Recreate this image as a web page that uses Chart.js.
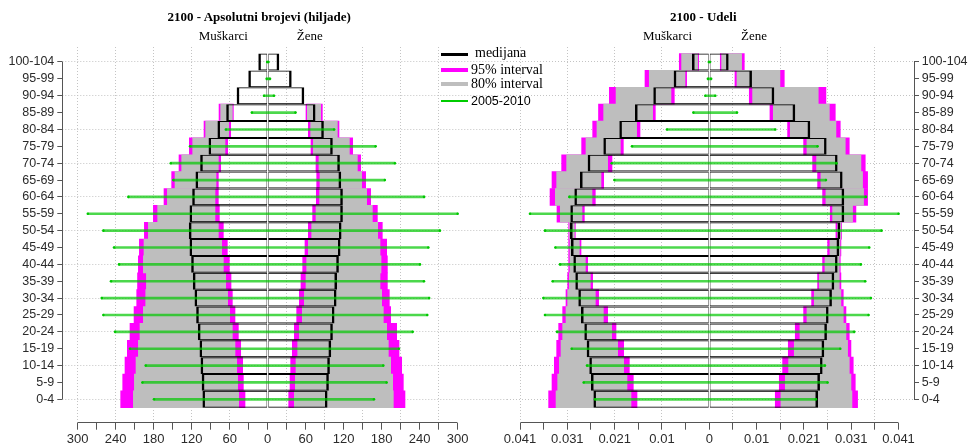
<!DOCTYPE html>
<html lang="sr">
<head>
<meta charset="utf-8">
<title>2100 - Piramide stanovništva</title>
<script src="https://cdn.jsdelivr.net/npm/chart.js@4.4.1/dist/chart.umd.min.js"></script>
<style>
  html, body { margin: 0; padding: 0; background: #fff; }
  #page { position: relative; width: 971px; height: 446px; overflow: hidden; background: #fff; }
  canvas { position: absolute; top: 0; }
  .t { position: absolute; white-space: nowrap; color: #000; }
  .serif { font-family: "Liberation Serif", "Times New Roman", serif; }
  .sans { font-family: "Liberation Sans", Arial, sans-serif; }
  .ctr { transform: translateX(-50%); }
  .title { font-size: 13px; line-height: 15px; font-weight: bold; }
  .sub { font-size: 13px; line-height: 15px; }
  .lg { font-size: 14px; line-height: 16px; }
  .sw { position: absolute; left: 441px; width: 27px; }
</style>
</head>
<body>
<div id="page">
  <canvas id="cAbs" width="507" height="446" style="left:0"></canvas>
  <canvas id="cShare" width="481" height="446" style="left:490px"></canvas>

  <div class="t serif title ctr" style="left:259.2px;top:8.9px">2100 - Apsolutni brojevi (hiljade)</div>
  <div class="t serif sub ctr" style="left:223.3px;top:27.6px">Muškarci</div>
  <div class="t serif sub ctr" style="left:309.7px;top:27.6px">Žene</div>

  <div class="t serif title ctr" style="left:703.3px;top:8.9px">2100 - Udeli</div>
  <div class="t serif sub ctr" style="left:667.5px;top:27.6px">Muškarci</div>
  <div class="t serif sub ctr" style="left:754px;top:27.6px">Žene</div>

  <div class="sw" style="top:52.5px;height:3px;background:#000"></div>
  <div class="sw" style="top:68px;height:4px;background:#ff00ff"></div>
  <div class="sw" style="top:81.5px;height:4px;background:#bebebe"></div>
  <div class="sw" style="top:99.8px;height:2.5px;background:#00cc00"></div>
  <div class="t serif lg" style="left:475px;top:44.8px">medijana</div>
  <div class="t serif lg" style="left:471px;top:62.3px">95% interval</div>
  <div class="t serif lg" style="left:471px;top:75.6px">80% interval</div>
  <div class="t sans" style="left:471px;top:94.4px;font-size:12.5px;line-height:14px">2005-2010</div>
</div>

<script>
// Age groups, bottom (0-4) to top (100-104)
const ages = ['0-4', '5-9', '10-14', '15-19', '20-24', '25-29', '30-34', '35-39', '40-44', '45-49',
  '50-54', '55-59', '60-64', '65-69', '70-74', '75-79', '80-84', '85-89', '90-94', '95-99', '100-104'];

// ---- 2100, absolute numbers (thousands) ----
const absMaleMedian   = [103, 104.2, 106, 107.6, 110.3, 112.9, 115.5, 118.2, 120.8, 123.4, 124.5, 123.4, 119.2, 114, 106.6, 93.4, 79.3, 65.5, 49, 30.6, 14.8];
const absFemaleMedian = [94.5, 96.6, 98.2, 100.3, 102.9, 105.5, 108.7, 109.5, 112.4, 115, 116.6, 118.7, 118.7, 116.1, 114, 102.8, 88.7, 75.5, 57.8, 37.9, 18.3];

const absMaleLo95 = [35.8, 38.4, 39.5, 42.6, 46.3, 51.6, 55.8, 57.9, 60.5, 63.7, 70, 76.3, 77.9, 77.9, 74.2, 63.2, 58.4, 54.2, null, null, null];
const absMaleLo80 = [45.8, 47.4, 48.9, 51.6, 55.8, 60, 63.2, 66.3, 70, 72.6, 77.9, 83.2, 83.2, 81.6, 77.9, 67.4, 61.6, 55.8, null, null, null];
const absMaleHi80 = [212.1, 210.5, 207.9, 204.2, 201.6, 196.3, 192.6, 191.5, 196.3, 195.3, 188.4, 173.7, 158.4, 146.3, 135.8, 118.4, 97.9, 74.2, null, null, null];
const absMaleHi95 = [232.1, 228.9, 225.3, 221.6, 217.4, 211, 206.8, 205.5, 204.2, 202.6, 194.7, 180.5, 163.7, 151.6, 140, 123.7, 100.5, 76.8, null, null, null];

const absFemaleLo95 = [33.2, 35.3, 36.3, 38.9, 42.1, 45.8, 50, 52.6, 55.3, 58.9, 64.2, 71, 76.8, 77.4, 76.3, 68.4, 64.2, 60.5, null, null, null];
const absFemaleLo80 = [42.1, 43.7, 44.7, 47.4, 50, 54.7, 57.9, 60.5, 61.6, 64.2, 69.5, 76.3, 82, 82.6, 81, 72.1, 67.9, 62.6, null, null, null];
const absFemaleHi80 = [198.4, 197.4, 194.2, 190.5, 187.9, 182.6, 180, 177.4, 179, 177.4, 173.7, 165.3, 156.3, 148.4, 141.6, 129, 110, 83.7, null, null, null];
const absFemaleHi95 = [216.8, 214.2, 211.6, 207.4, 203.7, 194.2, 192.1, 189, 189, 187.9, 181, 173.2, 162.6, 154.7, 146.8, 134.2, 112.6, 86.3, null, null, null];

const absMale2005   = [179.5, 197.9, 192.6, 217.4, 241, 259.5, 262, 247.4, 234.7, 242.6, 259.5, 284, 220, 149, 153, 122.6, 66, 25, 5.8, 1.6, 0.8];
const absFemale2005 = [167.9, 187.9, 182.6, 207.4, 229, 252, 255, 246.8, 240.5, 253.7, 272, 300, 247, 185, 201, 170.5, 105, 44, 10, 3.7, 1.2];

const absTicks = [-300, -270, -240, -210, -180, -150, -120, -90, -60, -30, 0, 30, 60, 90, 120, 150, 180, 210, 240, 270, 300];
const absTickLabels = ['300', '', '240', '', '180', '', '120', '', '60', '', '0', '', '60', '', '120', '', '180', '', '240', '', '300'];
const absGridX = [-300, -240, -180, -120, -60, 30, 90, 150, 210, 270];

// ---- 2100, shares ----
const shareMaleMedian   = [0.0251, 0.02563, 0.02599, 0.02656, 0.02707, 0.02779, 0.02837, 0.02902, 0.02945, 0.02996, 0.03017, 0.0301, 0.02923, 0.02801, 0.02635, 0.02295, 0.01949, 0.0161, 0.01213, 0.00772, 0.00375];
const shareFemaleMedian = [0.02355, 0.02397, 0.02454, 0.0249, 0.02548, 0.02584, 0.02656, 0.02707, 0.02779, 0.02815, 0.02837, 0.02923, 0.02923, 0.02887, 0.02779, 0.02541, 0.02187, 0.01862, 0.01408, 0.00924, 0.00419];

const shareMaleLo95 = [0.01566, 0.01646, 0.01732, 0.01855, 0.02021, 0.02202, 0.02397, 0.02527, 0.02635, 0.02779, 0.02902, 0.02707, 0.02469, 0.02288, 0.02108, 0.01862, 0.01501, 0.01169, 0.00758, 0.00491, 0.00231];
const shareMaleLo80 = [0.01696, 0.01783, 0.01855, 0.01985, 0.02115, 0.02295, 0.02469, 0.02577, 0.02685, 0.02815, 0.02923, 0.02757, 0.02541, 0.02346, 0.02202, 0.01927, 0.01574, 0.01227, 0.0083, 0.00527, 0.00253];
const shareMaleHi80 = [0.0332, 0.03284, 0.03248, 0.03212, 0.03176, 0.03104, 0.03068, 0.03032, 0.03017, 0.03017, 0.03025, 0.03227, 0.03335, 0.03306, 0.0309, 0.02671, 0.02433, 0.02288, 0.0202, 0.013, 0.006];
const shareMaleHi95 = [0.0348, 0.03407, 0.03357, 0.03306, 0.03263, 0.03176, 0.03104, 0.03068, 0.03046, 0.03046, 0.03046, 0.03299, 0.0345, 0.03407, 0.03198, 0.02765, 0.02526, 0.024, 0.02165, 0.01393, 0.0065];

const shareFemaleLo95 = [0.01429, 0.01516, 0.01588, 0.01711, 0.01862, 0.02043, 0.02216, 0.02346, 0.02454, 0.02563, 0.02743, 0.0262, 0.02454, 0.02346, 0.02238, 0.02043, 0.01696, 0.01314, 0.00866, 0.00556, 0.00238];
const shareFemaleLo80 = [0.01552, 0.01646, 0.01718, 0.01841, 0.01963, 0.02115, 0.02274, 0.02382, 0.02505, 0.02613, 0.02779, 0.02671, 0.02526, 0.02418, 0.02324, 0.02115, 0.01754, 0.01386, 0.00938, 0.006, 0.00267];
const shareFemaleHi80 = [0.0309, 0.03068, 0.03032, 0.02996, 0.0296, 0.02902, 0.02851, 0.02815, 0.02815, 0.0283, 0.02851, 0.03104, 0.03342, 0.0332, 0.03284, 0.02945, 0.02743, 0.026, 0.0236, 0.0153, 0.007];
const shareFemaleHi95 = [0.03212, 0.03162, 0.03118, 0.03068, 0.03032, 0.0296, 0.02902, 0.02851, 0.02837, 0.02851, 0.02866, 0.03176, 0.03429, 0.03429, 0.03378, 0.03032, 0.02837, 0.02729, 0.02526, 0.01624, 0.00758];

const shareMale2005   = [0.02476, 0.02721, 0.02649, 0.02981, 0.03299, 0.03559, 0.03595, 0.03393, 0.03234, 0.03335, 0.03559, 0.03884, 0.03032, 0.02057, 0.02115, 0.01675, 0.00917, 0.00346, 0.00087, 0.0003, 0.0001];
const shareFemale2005 = [0.0231, 0.02563, 0.02505, 0.02837, 0.0314, 0.0345, 0.03501, 0.03378, 0.03284, 0.03465, 0.03732, 0.041, 0.03393, 0.02527, 0.02757, 0.02346, 0.01429, 0.006, 0.0013, 0.0004, 0.00015];

const shareTicks = [-0.041, -0.035875, -0.03075, -0.025625, -0.0205, -0.015375, -0.01025, -0.005125, 0,
  0.005125, 0.01025, 0.015375, 0.0205, 0.025625, 0.03075, 0.035875, 0.041];
const shareTickLabels = ['0.041', '', '0.031', '', '0.021', '', '0.01', '', '0', '', '0.01', '', '0.021', '', '0.031', '', '0.041'];
const shareGridX = [-0.041, -0.03075, -0.0205, -0.01025, 0.005125, 0.015375, 0.025625, 0.035875];

// Horizontal reference lines every second age group (0-4, 10-14, ...)
const gridRows = ages.map((_a, i) => i).filter(i => i % 2 === 0);

// ---- styling ----
const MAGENTA = '#ff00ff';
const GRAY = '#bebebe';
const GREEN = 'rgba(0, 200, 0, 0.7)';
const GREEN_DOT = '#00c800';
const GRID = '#c4c4c4';
const AXIS = '#555555';
const TEXT = '#2b2b2b';
const NONE = 'rgba(0,0,0,0)';
const SANS = '"Liberation Sans", Arial, sans-serif';

// Men are plotted on the negative side, women on the positive side.
function spans(lo, hi, side) {
  const out = [];
  lo.forEach((v, i) => {
    if (v == null || hi[i] == null) return;
    out.push(side < 0 ? { y: i, x: [-hi[i], -v] } : { y: i, x: [v, hi[i]] });
  });
  return out;
}
function medianBars(vals, side) {
  return vals.map((v, i) => ({ y: i, x: side < 0 ? [-v, 0] : [0, v] }));
}
function observedBars(m, f) {
  return m.map((v, i) => ({ y: i, x: [-v, f[i]] }));
}

const crisp = v => Math.round(v - 0.5) + 0.5;

// Dotted reference grid under the bars
const dottedGrid = {
  id: 'dottedGrid',
  beforeDatasetsDraw(chart, _args, opts) {
    const { ctx, chartArea: a, scales: { x, y } } = chart;
    ctx.save();
    ctx.strokeStyle = GRID;
    ctx.lineWidth = 1;
    ctx.setLineDash([1, 2]);
    ctx.beginPath();
    opts.xs.forEach(v => {
      const px = crisp(x.getPixelForValue(v));
      ctx.moveTo(px, a.top);
      ctx.lineTo(px, a.bottom);
    });
    opts.rows.forEach(r => {
      const py = crisp(y.getPixelForValue(r));
      ctx.moveTo(a.left, py);
      ctx.lineTo(a.right, py);
    });
    ctx.stroke();
    ctx.restore();
  }
};

// Axis lines that run only between the outermost ticks
const axisLines = {
  id: 'axisLines',
  afterDraw(chart, _args, opts) {
    const { ctx, chartArea, scales: { x, y } } = chart;
    ctx.save();
    ctx.strokeStyle = AXIS;
    ctx.lineWidth = 1;
    ctx.setLineDash([]);
    ctx.beginPath();
    const yb = crisp(chartArea.bottom);
    ctx.moveTo(crisp(x.getPixelForValue(opts.xFrom)), yb);
    ctx.lineTo(crisp(x.getPixelForValue(opts.xTo)), yb);
    ctx.stroke();
    const xa = crisp(opts.side === 'right' ? chartArea.right : chartArea.left);
    ctx.beginPath();
    ctx.moveTo(xa, crisp(y.getPixelForValue(0)));
    ctx.lineTo(xa, crisp(y.getPixelForValue(ages.length - 1)));
    ctx.stroke();
    ctx.restore();
  }
};

// Small end markers on the 2005-2010 reference lines
const observedEnds = {
  id: 'observedEnds',
  afterDatasetsDraw(chart) {
    const { ctx } = chart;
    chart.data.datasets.forEach((ds, di) => {
      if (!ds.endDots) return;
      const meta = chart.getDatasetMeta(di);
      ctx.save();
      ctx.fillStyle = ds.endDots;
      meta.data.forEach(el => {
        [el.x, el.base].forEach(px => {
          ctx.beginPath();
          ctx.arc(px, el.y, 1.3, 0, Math.PI * 2);
          ctx.fill();
        });
      });
      ctx.restore();
    });
  }
};

function pyramid(canvasId, d, cfg) {
  const common = { grouped: false, categoryPercentage: 1, barPercentage: 1, borderWidth: 0, borderSkipped: false };
  const box = { ...common, backgroundColor: NONE, borderColor: '#000', inflateAmount: 0, order: 2, label: 'medijana' };
  return new Chart(document.getElementById(canvasId), {
    type: 'bar',
    data: {
      datasets: [
        { ...common, label: '95% interval', data: spans(d.mLo95, d.mHi95, -1), backgroundColor: MAGENTA, order: 4 },
        { ...common, label: '95% interval', data: spans(d.fLo95, d.fHi95, 1), backgroundColor: MAGENTA, order: 4 },
        { ...common, label: '80% interval', data: spans(d.mLo80, d.mHi80, -1), backgroundColor: GRAY, order: 3 },
        { ...common, label: '80% interval', data: spans(d.fLo80, d.fHi80, 1), backgroundColor: GRAY, order: 3 },
        { ...box, data: medianBars(d.mMed, -1), borderWidth: { top: 1, bottom: 1, left: 2.5, right: 0.5 } },
        { ...box, data: medianBars(d.fMed, 1), borderWidth: { top: 1, bottom: 1, left: 0.5, right: 2.5 } },
        { ...common, label: '2005-2010', data: observedBars(d.m2005, d.f2005), backgroundColor: GREEN,
          maxBarThickness: 2, order: 1, endDots: GREEN_DOT }
      ]
    },
    plugins: [dottedGrid, axisLines, observedEnds],
    options: {
      indexAxis: 'y',
      responsive: false,
      devicePixelRatio: 1,
      animation: false,
      events: [],
      layout: { padding: { top: 47, left: cfg.padLeft, right: 0, bottom: 0 } },
      plugins: {
        legend: { display: false },
        tooltip: { enabled: false },
        dottedGrid: { xs: cfg.grid, rows: gridRows },
        axisLines: { xFrom: cfg.ticks[0], xTo: cfg.ticks[cfg.ticks.length - 1], side: cfg.yPos }
      },
      scales: {
        x: {
          type: 'linear',
          offset: false,
          min: cfg.range[0],
          max: cfg.range[1],
          afterBuildTicks: s => { s.ticks = cfg.ticks.map(v => ({ value: v })); },
          afterFit: s => { s.height = 23.3; },
          ticks: {
            autoSkip: false, maxRotation: 0, minRotation: 0, padding: 2, color: TEXT,
            font: { family: SANS, size: 13 },
            callback: (_v, i) => cfg.labels[i]
          },
          grid: {
            offset: false, drawOnChartArea: false, drawTicks: true, tickLength: 7,
            color: AXIS, tickColor: AXIS, tickWidth: 1, lineWidth: 1
          },
          border: { display: false }
        },
        y: {
          type: 'linear',
          offset: false,
          position: cfg.yPos,
          min: -1.387,
          max: 20.889,
          afterBuildTicks: s => { s.ticks = ages.map((_a, i) => ({ value: i })); },
          afterFit: s => { s.width = cfg.yWidth; },
          ticks: {
            autoSkip: false, padding: cfg.yPad, color: TEXT,
            font: { family: SANS, size: 12.5 },
            callback: v => ages[Math.round(v)]
          },
          grid: {
            offset: false, drawOnChartArea: false, drawTicks: true, tickLength: 5,
            color: AXIS, tickColor: AXIS, tickWidth: 1, lineWidth: 1
          },
          border: { display: false }
        }
      }
    }
  });
}

pyramid('cAbs', {
  mMed: absMaleMedian, fMed: absFemaleMedian,
  mLo95: absMaleLo95, mLo80: absMaleLo80, mHi80: absMaleHi80, mHi95: absMaleHi95,
  fLo95: absFemaleLo95, fLo80: absFemaleLo80, fHi80: absFemaleHi80, fHi95: absFemaleHi95,
  m2005: absMale2005, f2005: absFemale2005
}, {
  range: [-324.3, 377.9], ticks: absTicks, labels: absTickLabels, grid: absGridX,
  yPos: 'left', yWidth: 62.3, yPad: 3, padLeft: 0
});

pyramid('cShare', {
  mMed: shareMaleMedian, fMed: shareFemaleMedian,
  mLo95: shareMaleLo95, mLo80: shareMaleLo80, mHi80: shareMaleHi80, mHi95: shareMaleHi95,
  fLo95: shareFemaleLo95, fLo80: shareFemaleLo80, fHi80: shareFemaleHi80, fHi95: shareFemaleHi95,
  m2005: shareMale2005, f2005: shareFemale2005
}, {
  range: [-0.04382, 0.04434], ticks: shareTicks, labels: shareTickLabels, grid: shareGridX,
  yPos: 'right', yWidth: 57, yPad: 2.7, padLeft: 17
});
</script>
</body>
</html>
